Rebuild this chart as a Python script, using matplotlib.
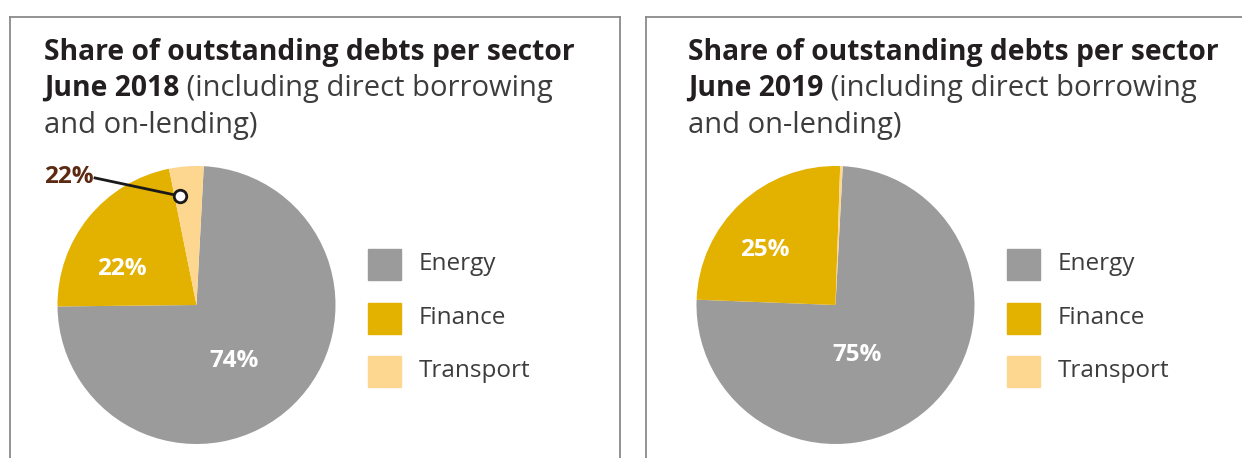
import matplotlib.pyplot as plt
from matplotlib.lines import Line2D
from matplotlib.patches import Rectangle

plt.rcParams['font.family'] = ['Open Sans', 'DejaVu Sans']

sectors = ['Energy', 'Finance', 'Transport']
colors = ['#9b9b9b', '#e3b100', '#fdd690']

years = ['2018', '2019']
shares_2018 = [74, 22, 4]
shares_2019 = [75, 25, 0.3]
labels_2018 = ['74%', '22%', '22%']
labels_2019 = ['75%', '25%', '']

W, H = 1242, 458
fig = plt.figure(figsize=(W / 100, H / 100), dpi=100)


def fx(x):
    return x / W


def fy(y):
    return 1 - y / H


renderer = fig.canvas.get_renderer()


def panel(x0, x_right, shift, tshift, year, shares, labels, label_pos):
    # frame around the panel (bottom runs off the page)
    frame_kw = dict(color='#8a8a8a', lw=1.3, transform=fig.transFigure)
    fig.add_artist(Line2D([fx(x0), fx(x0)], [fy(17), fy(H + 5)], **frame_kw))
    fig.add_artist(Line2D([fx(x0), fx(x_right)], [fy(17), fy(17)], **frame_kw))
    if x_right < W:
        fig.add_artist(Line2D([fx(x_right), fx(x_right)], [fy(17), fy(H + 5)], **frame_kw))

    tx = x0 + 34 + tshift
    fig.text(fx(tx), fy(60), 'Share of outstanding debts per sector',
             fontsize=20.3, fontweight='bold', color='#231f20', va='baseline')
    t1 = fig.text(fx(tx), fy(96), 'June ' + year, fontsize=20.3,
                  fontweight='bold', color='#231f20', va='baseline')
    ext = t1.get_window_extent(renderer)
    fig.text(ext.x1 / W, fy(96), ' (including direct borrowing', fontsize=21,
             color='#3d3d3d', va='baseline')
    fig.text(fx(tx), fy(133), 'and on-lending)', fontsize=21,
             color='#3d3d3d', va='baseline')

    # pie
    cx, cy, r = 196.5 + x0 - 10 + shift, 305, 139
    ax = fig.add_axes([fx(cx - r), fy(cy + r), 2 * r / W, 2 * r / H])
    ax.pie(shares, colors=colors, startangle=87, counterclock=False,
           wedgeprops=dict(linewidth=0))
    ax.set_xlim(-1, 1)
    ax.set_ylim(-1, 1)
    ax.set_aspect('auto')
    ax.axis('off')
    for lab, (lx, ly) in zip(labels[:2], label_pos):
        ax.text(lx, ly, lab, color='white', fontsize=17.5, fontweight='bold',
                ha='center', va='center')

    # legend
    for i, (name, c) in enumerate(zip(sectors, colors)):
        sy = 249 + i * 53.5
        lx = 368 + x0 - 10 + shift
        fig.add_artist(Rectangle((fx(lx), fy(sy + 31)), 33 / W, 31 / H,
                                 color=c, transform=fig.transFigure))
        fig.text(fx(lx + 51), fy(sy + 15), name, fontsize=17.5,
                 color='#3d3d3d', va='center')
    return ax


ax1 = panel(10, 620, 0, 0, years[0], shares_2018, labels_2018,
            [(0.27, -0.40), (-0.536, 0.259)])
ax2 = panel(646, W + 10, 3, 8, years[1], shares_2019, labels_2019,
            [(0.158, -0.36), (-0.511, 0.396)])

# callout on the transport slice
ax1.plot([-0.73, -0.119], [0.914, 0.784], color='#1a1a1a', lw=2, clip_on=False)
ax1.plot([-0.119], [0.784], marker='o', ms=9, mfc='white', mec='#1a1a1a',
         mew=2, clip_on=False)
ax1.text(-0.74, 0.92, labels_2018[2], color='#5c2a12', fontsize=17.5,
         fontweight='bold', ha='right', va='center', clip_on=False)

fig.savefig('out.png', dpi=100)
